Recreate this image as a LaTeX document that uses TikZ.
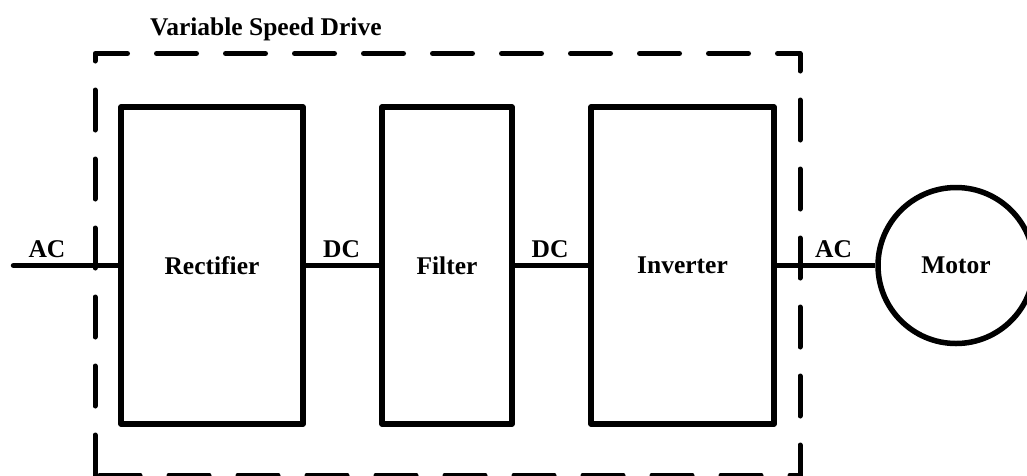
\documentclass[tikz,border=0pt]{standalone}
\usepackage{fontspec}
\setmainfont{Liberation Serif}
\newcommand\vsdfont{\fontsize{25.5pt}{30pt}\selectfont\bfseries}
\begin{document}
\begin{tikzpicture}[x=1pt,y=-1pt,
  blk/.style={draw, line width=5.5pt, line join=round, minimum height=317pt, inner sep=0pt, font=\vsdfont},
  conn/.style={line width=5.5pt},
  lab/.style={font=\vsdfont, anchor=base, inner sep=0pt},
  vsd/.style={line width=5pt, line cap=round, line join=round, dash pattern=on 40pt off 29pt}]
\useasboundingbox (0,0) rectangle (1027,475);
\clip (0,0) rectangle (1027,475);
% dashed enclosure
\coordinate (bl) at (95,475);
\coordinate (tl) at (95,53.5);
\coordinate (tr) at (800,53.5);
\coordinate (br) at (800,475);
\draw[vsd] (bl) -- (tl) -- (tr) -- (br) -- (bl);
\node[anchor=base west, font=\vsdfont, inner sep=0pt] (title) at (150,35) {Variable Speed Drive};
% blocks
\node[blk, minimum width=182pt] (rect) at (212,265.5) {Rectifier};
\node[blk, minimum width=130pt] (filt) at (447,265.5) {Filter};
\node[blk, minimum width=183pt] (inv) at (682.5,265.5) {Inverter};
\node[circle, draw, line width=5.5pt, minimum size=156pt, inner sep=0pt, font=\vsdfont] (motor) at (956,265.5) {Motor};
% connectors
\coordinate (acin) at (13.5,265.5);
\draw[conn, line cap=round] (acin) -- (rect.west);
\draw[conn] (rect.east) -- (filt.west);
\draw[conn] (filt.east) -- (inv.west);
\draw[conn] (inv.east) -- (motor.west);
% labels
\node[lab] (l1) at (47,257) {AC};
\node[lab] (l2) at (341.5,257) {DC};
\node[lab] (l3) at (550,257) {DC};
\node[lab] (l4) at (833.5,257) {AC};
\end{tikzpicture}
\end{document}
